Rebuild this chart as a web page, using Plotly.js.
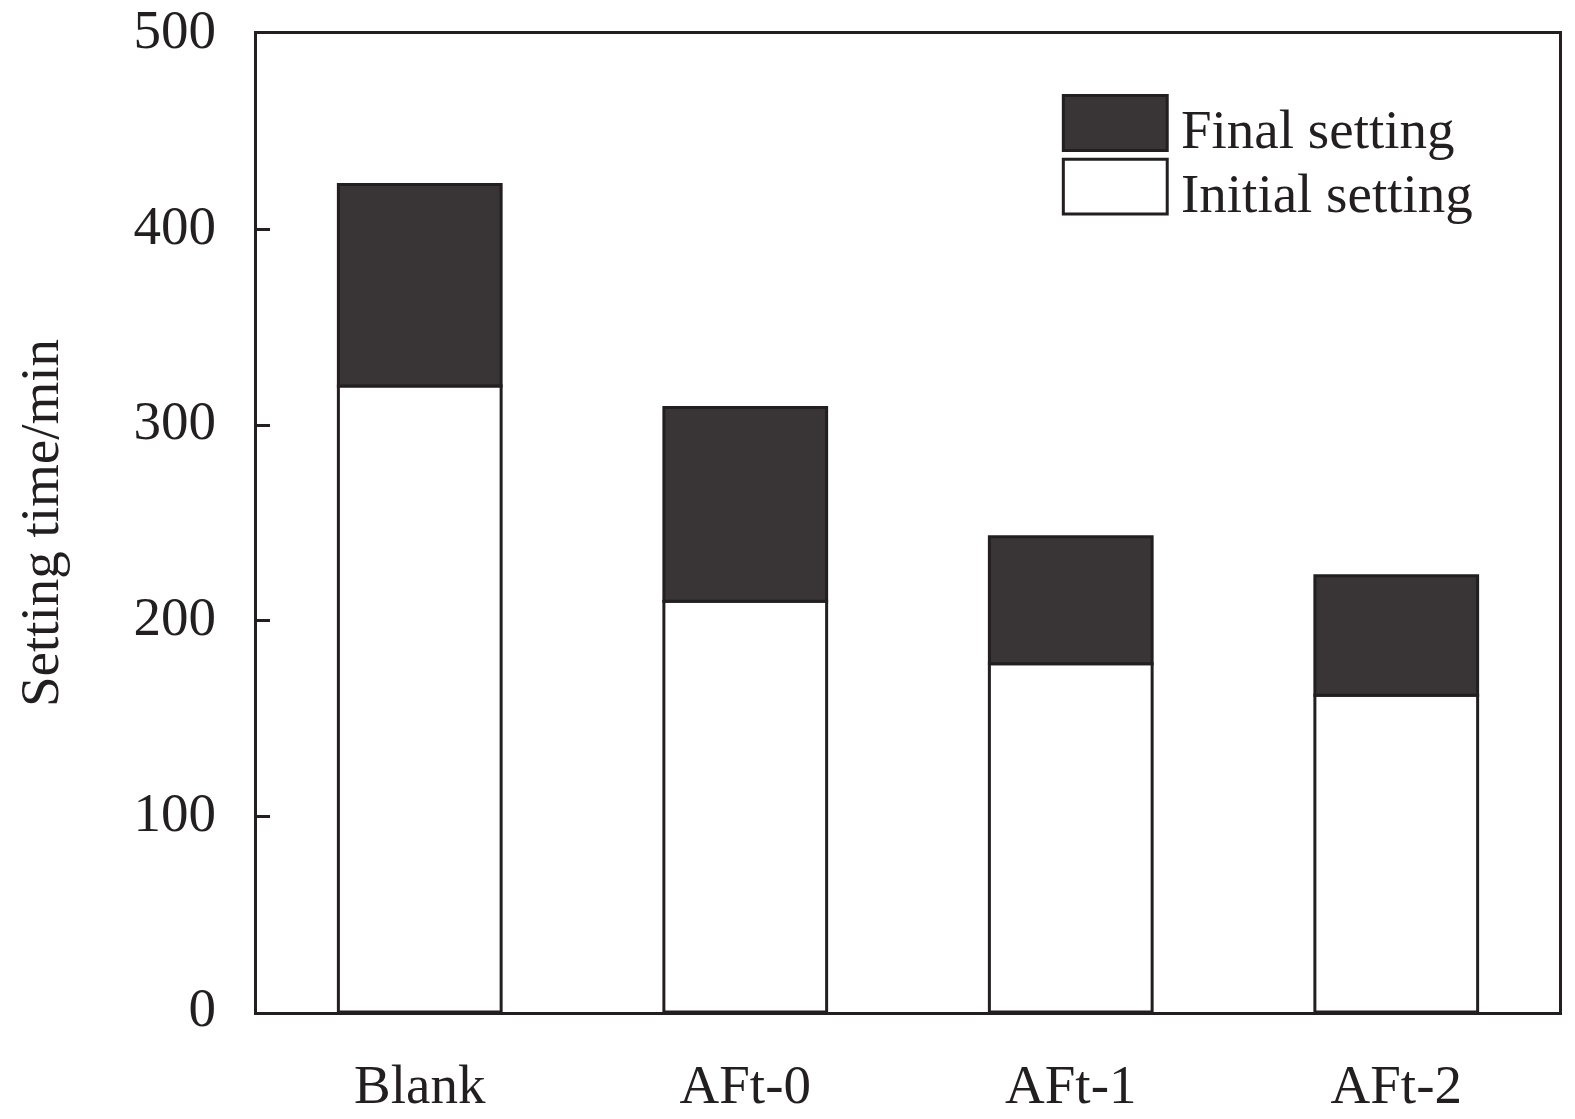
<!DOCTYPE html>
<html>
<head>
<meta charset="utf-8">
<script src="https://cdn.plot.ly/plotly-3.0.1.min.js"></script>
<style>html,body{margin:0;padding:0;background:#fff;}#chart{width:1575px;height:1119px;}</style>
</head>
<body>
<div id="chart"></div>
<script>
const categories = ["Blank", "AFt-0", "AFt-1", "AFt-2"];
const initialSetting = [320, 210, 178, 162];
const finalSetting = [423, 309, 243, 223];
const seriesNames = ["Final setting", "Initial setting"];
const yTickVals = [0, 100, 200, 300, 400, 500];
const yTitle = "Setting time/min";

const ink = "#231f20";
const darkFill = "#393536";
const font = "Liberation Serif, Times New Roman, serif";
const fs = 55;

const traces = [
  {
    type: "bar", name: seriesNames[1], x: categories, y: initialSetting,
    width: 0.5, marker: {color: "#ffffff", line: {color: ink, width: 3}},
    showlegend: false, hoverinfo: "skip"
  },
  {
    type: "bar", name: seriesNames[0], x: categories,
    y: finalSetting.map((v, i) => v - initialSetting[i]), base: initialSetting,
    width: 0.5, marker: {color: darkFill, line: {color: ink, width: 3}},
    showlegend: false, hoverinfo: "skip"
  }
];

const layout = {
  width: 1575, height: 1119,
  margin: {l: 257, r: 16, t: 34, b: 107},
  paper_bgcolor: "#fff", plot_bgcolor: "#fff",
  barmode: "overlay",
  font: {family: font, size: fs, color: ink},
  xaxis: {
    type: "category", range: [-0.5, 3.5],
    showline: true, linecolor: ink, linewidth: 3, mirror: true,
    ticks: "", showgrid: false, zeroline: false,
    tickfont: {family: font, size: fs, color: ink},
    ticklabelstandoff: 22
  },
  yaxis: {
    range: [0, 500], tickvals: yTickVals,
    showline: true, linecolor: ink, linewidth: 3, mirror: true,
    ticks: "inside", ticklen: 13, tickwidth: 3, tickcolor: ink,
    showgrid: false, zeroline: false,
    tickfont: {family: font, size: fs, color: ink},
    ticklabelstandoff: 27, ticklabelshift: -5, ticklabeloverflow: "allow",
    title: {text: yTitle, font: {family: font, size: fs, color: ink}, standoff: 58}
  },
  shapes: [
    {type: "rect", xref: "paper", yref: "paper", x0: 0.6193, x1: 0.6991, y0: 0.881, y1: 0.937,
     fillcolor: darkFill, line: {color: ink, width: 3}},
    {type: "rect", xref: "paper", yref: "paper", x0: 0.6193, x1: 0.6991, y0: 0.816, y1: 0.872,
     fillcolor: "#ffffff", line: {color: ink, width: 3}}
  ],
  annotations: [
    {xref: "paper", yref: "paper", x: 0.7085, y: 0.902, xanchor: "left", yanchor: "middle",
     text: seriesNames[0], showarrow: false, font: {family: font, size: fs, color: ink}},
    {xref: "paper", yref: "paper", x: 0.7085, y: 0.837, xanchor: "left", yanchor: "middle",
     text: seriesNames[1], showarrow: false, font: {family: font, size: fs, color: ink}}
  ]
};

Plotly.newPlot("chart", traces, layout, {displayModeBar: false, staticPlot: true});
</script>
</body>
</html>
